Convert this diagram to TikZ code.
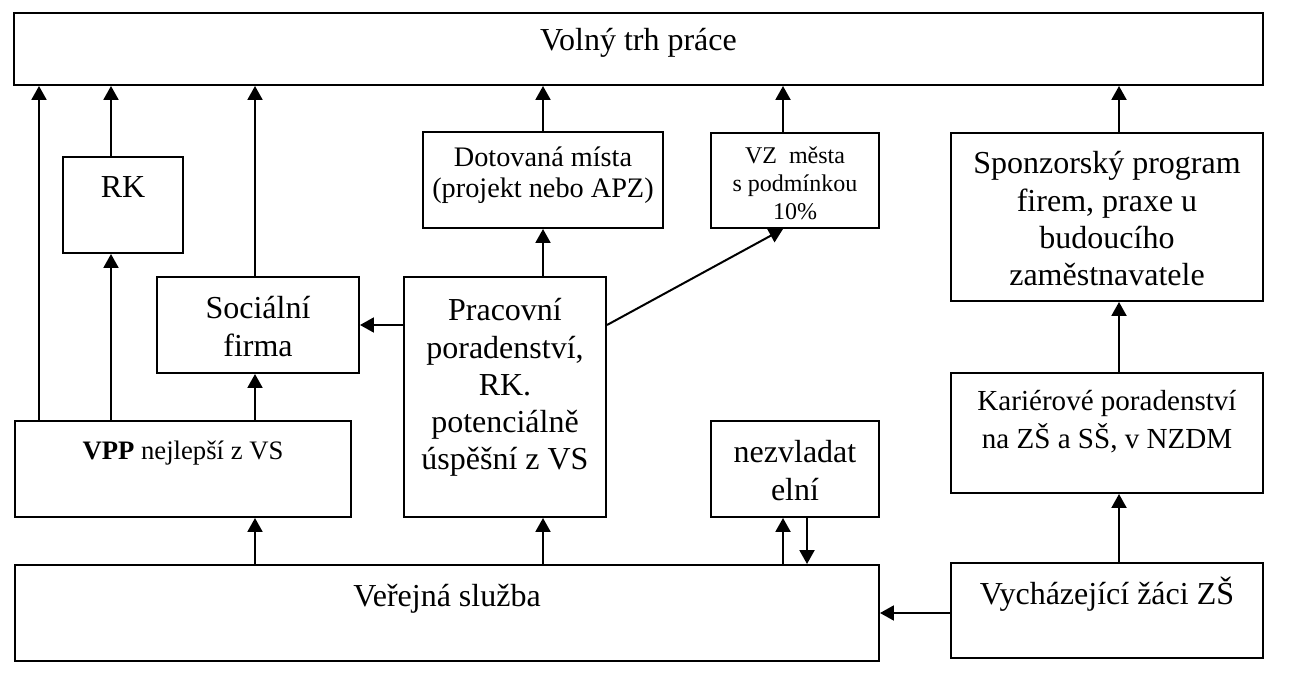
\documentclass[tikz,border=0pt]{standalone}
\usepackage{fontspec}
\setmainfont{Liberation Serif}
\usetikzlibrary{arrows.meta}

% one pixel of the layout
\newlength{\pxu}
\setlength{\pxu}{0.375pt}
% box content: width, height, top padding, text
\newcommand{\cell}[4]{\parbox[c][#2\pxu][t]{#1\pxu}{\centering\vspace*{#3\pxu}\strut #4}}

\begin{document}
\begin{tikzpicture}[x=0.375pt, y=-0.375pt,
  blk/.style={draw, line width=0.75pt, inner sep=0pt, font=\fontsize{12}{13.9}\selectfont},
  arr/.style={line width=0.75pt, -{Triangle[length=5.2pt,width=5.6pt]}}]
  \useasboundingbox (0,0) rectangle (1315,684);

  % columns and rows of the connectors
  \coordinate (cA) at (39,0);
  \coordinate (cB) at (111,0);
  \coordinate (cC) at (255,0);
  \coordinate (cD) at (543,0);
  \coordinate (cE) at (783,0);
  \coordinate (cF) at (807,0);
  \coordinate (cG) at (1119,0);
  \coordinate (rSoc) at (0,325);
  \coordinate (rVs) at (0,613);

  % boxes
  \node[blk] (top) at (638.5,49) {\cell{1249}{72}{12}{Volný trh práce}};
  \node[blk] (rk) at (123,205) {\cell{120}{96}{15}{RK}};
  \node[blk, font=\fontsize{10.6}{10.5}\selectfont] (dot) at (543,180)
    {\cell{240}{96}{15}{Dotovaná místa\\(projekt nebo APZ)}};
  \node[blk, font=\fontsize{9}{10.5}\selectfont] (vz) at (795,180.5)
    {\cell{168}{95}{11}{VZ\ \ města\\s podmínkou\\10\%}};
  \node[blk] (spon) at (1107,217)
    {\cell{312}{168}{15}{Sponzorský program\\firem, praxe u\\budoucího\\zaměstnavatele}};
  \node[blk] (soc) at (258,325) {\cell{202}{96}{16}{Sociální\\firma}};
  \node[blk] (prac) at (505,397)
    {\cell{202}{240}{18}{Pracovní\\poradenství,\\RK.\\potenciálně\\úspěšní z VS}};
  \node[blk, font=\fontsize{10.9}{12.75}\selectfont] (kar) at (1107,433)
    {\cell{312}{120}{14}{Kariérové poradenství\\na ZŠ a SŠ, v NZDM}};
  \node[blk, font=\fontsize{10}{12}\selectfont] (vpp) at (183,469)
    {\cell{336}{96}{16}{\textbf{VPP} nejlepší z VS}};
  \node[blk] (nez) at (795,469) {\cell{168}{96}{16}{nezvladat\\elní}};
  \node[blk] (vs) at (447,613) {\cell{864}{96}{16}{Veřejná služba}};
  \node[blk] (vych) at (1107,610.5) {\cell{312}{95}{14}{Vycházející žáci ZŠ}};

  % connectors
  \draw[arr] (vpp.north -| cA) -- (top.south -| cA);
  \draw[arr] (vpp.north -| cB) -- (rk.south -| cB);
  \draw[arr] (rk.north -| cB) -- (top.south -| cB);
  \draw[arr] (vpp.north -| cC) -- (soc.south -| cC);
  \draw[arr] (soc.north -| cC) -- (top.south -| cC);
  \draw[arr] (prac.west |- rSoc) -- (soc.east |- rSoc);
  \draw[arr] (prac.north -| cD) -- (dot.south -| cD);
  \draw[arr] (dot.north -| cD) -- (top.south -| cD);
  \draw[arr] (prac.east |- rSoc) -- (vz.south -| cE);
  \draw[arr] (vz.north -| cE) -- (top.south -| cE);
  \draw[arr] (spon.north -| cG) -- (top.south -| cG);
  \draw[arr] (kar.north -| cG) -- (spon.south -| cG);
  \draw[arr] (vych.north -| cG) -- (kar.south -| cG);
  \draw[arr] (vs.north -| cC) -- (vpp.south -| cC);
  \draw[arr] (vs.north -| cD) -- (prac.south -| cD);
  \draw[arr] (vs.north -| cE) -- (nez.south -| cE);
  \draw[arr] (nez.south -| cF) -- (vs.north -| cF);
  \draw[arr] (vych.west |- rVs) -- (vs.east |- rVs);
\end{tikzpicture}
\end{document}
